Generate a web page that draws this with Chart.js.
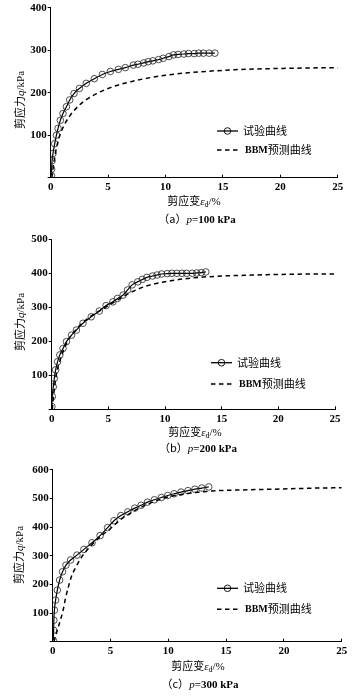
<!DOCTYPE html>
<html>
<head>
<meta charset="utf-8">
<script src="https://cdn.jsdelivr.net/npm/chart.js@4.4.1/dist/chart.umd.min.js"></script>
<style>
  body { margin: 0; background: #fff; }
  #wrap { position: relative; width: 354px; height: 696px; overflow: hidden; }
  canvas { position: absolute; left: 0; }
  .lbl { position: absolute; transform: translate(-50%, -50%); white-space: nowrap;
         font-family: "Noto Sans CJK SC"; font-size: 11px; color: #000; line-height: 1; }
  .ylbl { transform: translate(-50%, -50%) rotate(-90deg); }
  .ser { font-family: "Liberation Serif", serif; }
  .b { font-weight: bold; }
  sub { font-size: 8px; vertical-align: -2px; }
</style>
</head>
<body>
<div id="wrap">
  <canvas id="ca" width="354" height="230" style="top:0"></canvas>
  <canvas id="cb" width="354" height="230" style="top:230px"></canvas>
  <canvas id="cc" width="354" height="236" style="top:460px"></canvas>

  <div class="lbl ylbl" style="left:20px;top:100px">剪应力<i class="ser">q</i><span class="ser">/kPa</span></div>
  <div class="lbl" style="left:194px;top:202px">剪应变<i class="ser">ε</i><sub class="ser">d</sub><span class="ser">/%</span></div>
  <div class="lbl" style="left:197px;top:219px">（a）<i class="ser">p</i><span class="ser b">=100 kPa</span></div>

  <div class="lbl ylbl" style="left:20px;top:322px">剪应力<i class="ser">q</i><span class="ser">/kPa</span></div>
  <div class="lbl" style="left:195px;top:433px">剪应变<i class="ser">ε</i><sub class="ser">d</sub><span class="ser">/%</span></div>
  <div class="lbl" style="left:198px;top:448px">（b）<i class="ser">p</i><span class="ser b">=200 kPa</span></div>

  <div class="lbl ylbl" style="left:19px;top:555px">剪应力<i class="ser">q</i><span class="ser">/kPa</span></div>
  <div class="lbl" style="left:198px;top:667px">剪应变<i class="ser">ε</i><sub class="ser">d</sub><span class="ser">/%</span></div>
  <div class="lbl" style="left:200px;top:684px">（c）<i class="ser">p</i><span class="ser b">=300 kPa</span></div>
</div>
<script>
// 试验曲线 / BBM预测曲线, [剪应变 %, 剪应力 kPa]
const testA = [[0.06,5],[0.08,20],[0.12,40],[0.2,57],[0.35,80],[0.5,100],[0.64,116],[0.84,135],
  [1.07,151],[1.37,167],[1.66,183],[2.03,198],[2.5,210],[3.1,222],[3.8,233],[4.5,243],[5.2,250],
  [5.9,255],[6.5,259],[7.2,265],[7.6,267],[8.1,270],[8.5,273],[8.9,275],[9.4,278],[9.8,281],
  [10.3,285],[10.7,289],[11.1,290],[11.6,291],[12.0,292],[12.5,292],[12.9,293],[13.3,293],[13.8,293],[14.3,293]];
const predA = [[0.1,0],[0.3,40],[0.5,70],[0.8,100],[1.2,125],[1.6,143],[2,157],[2.5,171],[3,182],
  [4,198],[5,210],[6,219],[7,226],[8,232],[9,237],[10,241],[12,247],[14,251],[16,254],[18,256],
  [20,257],[22,258],[25,259]];

const testB = [[0.02,8],[0.05,37],[0.14,66],[0.23,91],[0.35,116],[0.52,140],[0.72,160],[1.0,179],
  [1.3,199],[1.75,218],[2.18,233],[2.76,253],[3.49,272],[4.2,289],[4.8,305],[5.4,316],[5.8,326],
  [6.3,336],[6.7,351],[7.1,366],[7.6,375],[8.0,382],[8.4,388],[8.9,392],[9.3,395],[9.7,398],
  [10.2,399],[10.6,400],[11.05,400],[11.5,400],[11.9,400],[12.4,400],[12.8,401],[13.2,402],[13.6,404]];
const predB = [[0.05,0],[0.2,50],[0.4,100],[0.8,150],[1.4,200],[2.3,240],[3.3,270],[4.5,295],
  [5.5,315],[6.5,335],[7.5,352],[8.5,364],[9.5,372],[10.5,378],[11.5,383],[13,388],[15,392],
  [17,394],[19,396],[21,397],[23,398],[25,398]];

const testC = [[0.05,5],[0.08,40],[0.1,75],[0.15,110],[0.25,145],[0.4,180],[0.6,215],[0.85,244],
  [1.15,267],[1.55,285],[2.1,302],[2.7,322],[3.4,345],[4.1,370],[4.75,398],[5.3,422],[5.9,440],
  [6.5,453],[7.1,466],[7.65,476],[8.2,487],[8.8,495],[9.4,503],[9.95,510],[10.5,516],[11.1,522],
  [11.7,527],[12.3,532],[12.9,536],[13.5,540]];
const predC = [[0.1,0],[0.4,40],[0.7,80],[0.9,110],[1.1,150],[1.35,190],[1.6,225],[2.0,260],
  [2.5,295],[3.2,330],[4,362],[5,395],[6,430],[7,455],[8,476],[9,492],[10,505],[11,513],[12,519],
  [13,523],[13.7,526],[15,528],[17,530],[19,532],[21,534],[23,536],[25,537]];

const xTicks = [0, 5, 10, 15, 20, 25];
const legendNames = ['试验曲线', 'BBM预测曲线'];

const pts = a => a.map(([x, y]) => ({ x, y }));
const tickFont = { family: '"Liberation Serif", serif', size: 11, weight: 'bold' };

const legendPlugin = {
  id: 'lg',
  afterDraw(chart, args, o) {
    const c = chart.ctx;
    c.save();
    c.strokeStyle = '#000';
    c.lineWidth = 1.3;
    c.beginPath(); c.moveTo(o.x, o.y1); c.lineTo(o.x + 21, o.y1); c.stroke();
    c.lineWidth = 0.9;
    c.beginPath(); c.arc(o.x + 10.5, o.y1, 3.3, 0, Math.PI * 2); c.stroke();
    c.lineWidth = 1.5;
    c.setLineDash([4.5, 3.5]);
    c.beginPath(); c.moveTo(o.x, o.y2); c.lineTo(o.x + 24, o.y2); c.stroke();
    c.setLineDash([]);
    c.fillStyle = '#000';
    c.textBaseline = 'middle';
    c.font = '11px "Noto Sans CJK SC"';
    c.fillText(legendNames[0], o.x + 26, o.y1);
    c.font = 'bold 10px "Liberation Serif"';
    c.fillText('BBM', o.x + 28, o.y2);
    const w = c.measureText('BBM').width;
    c.font = '11px "Noto Sans CJK SC"';
    c.fillText(legendNames[1].slice(3), o.x + 28 + w, o.y2);
    c.restore();
  }
};

function panel(id, h, box, yMax, test, pred, lg) {
  new Chart(document.getElementById(id), {
    type: 'line',
    data: {
      datasets: [
        { data: pts(pred), borderColor: '#000', borderWidth: 1.5, borderDash: [4.5, 3.5],
          pointRadius: 0, tension: 0.4, cubicInterpolationMode: 'monotone' },
        { data: pts(test), borderColor: '#000', borderWidth: 1.2, pointRadius: 3.3,
          pointBorderWidth: 0.8, pointBackgroundColor: 'rgba(0,0,0,0)', pointBorderColor: '#222',
          cubicInterpolationMode: 'monotone' }
      ]
    },
    options: {
      responsive: false, animation: false, devicePixelRatio: 1,
      layout: { padding: { left: 0, top: box.top, right: 354 - box.right, bottom: h - box.bottom - 20 } },
      plugins: { legend: { display: false }, tooltip: { enabled: false }, lg },
      scales: {
        x: {
          type: 'linear', min: 0, max: 25,
          afterBuildTicks: s => { s.ticks = xTicks.map(v => ({ value: v })); },
          afterFit: s => { s.height = 20; },
          border: { display: true, color: '#000', width: 1 },
          grid: { drawOnChartArea: false, color: '#000', tickLength: -3 },
          ticks: { color: '#000', font: tickFont, padding: 6, maxRotation: 0 }
        },
        y: {
          min: 0, max: yMax,
          afterFit: s => { s.width = box.left; },
          border: { display: true, color: '#000', width: 1 },
          grid: { drawOnChartArea: false, color: '#000', tickLength: 3 },
          ticks: { color: '#000', font: tickFont, stepSize: 100, padding: 1,
                   callback: v => (v === 0 ? '' : v) }
        }
      }
    },
    plugins: [legendPlugin]
  });
}

panel('ca', 230, { left: 50.7, right: 337.7, top: 7.7, bottom: 177.7 }, 400, testA, predA,
  { x: 217, y1: 131, y2: 150 });
panel('cb', 230, { left: 51.7, right: 335, top: 9.3, bottom: 179.3 }, 500, testB, predB,
  { x: 211, y1: 132.7, y2: 154 });
panel('cc', 236, { left: 52.7, right: 341.7, top: 9.7, bottom: 181.7 }, 600, testC, predC,
  { x: 217, y1: 128.3, y2: 149.3 });
</script>
</body>
</html>
